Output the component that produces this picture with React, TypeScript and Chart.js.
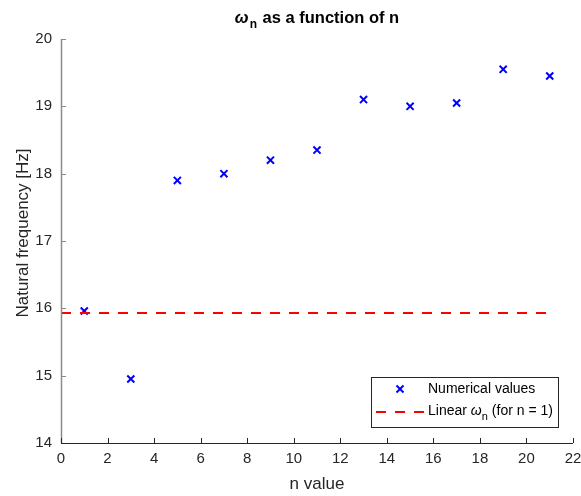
import React, { useEffect, useRef } from "react";
import { Chart, registerables } from "chart.js";
Chart.register(...registerables);

const nValues = [1, 3, 5, 7, 9, 11, 13, 15, 17, 19, 21];
const omegaValues = [15.96, 14.95, 17.9, 18.0, 18.2, 18.35, 19.1, 19.0, 19.05, 19.55, 19.45];
const linearX = [0, 21];
const linearOmega = 15.93;
const xTicks = [0, 2, 4, 6, 8, 10, 12, 14, 16, 18, 20, 22];
const yTicks = [14, 15, 16, 17, 18, 19, 20];

const FONT = "'Liberation Sans', Arial, Helvetica, sans-serif";

const decor = {
  id: "decor",
  afterDraw(chart: any) {
    const ctx = chart.ctx;
    const { left, right, top, bottom } = chart.chartArea;
    const xs = chart.scales.x;
    const ys = chart.scales.y;
    ctx.save();
    // axes
    ctx.lineWidth = 1.5;
    ctx.strokeStyle = "#8a8a8a";
    ctx.beginPath();
    ctx.moveTo(left + 0.5, top);
    ctx.lineTo(left + 0.5, bottom);
    ctx.stroke();
    ctx.lineWidth = 1;
    for (const v of yTicks) {
      const y = Math.round(ys.getPixelForValue(v)) + 0.5;
      ctx.beginPath();
      ctx.moveTo(left, y);
      ctx.lineTo(left + 5, y);
      ctx.stroke();
    }
    ctx.strokeStyle = "#262626";
    ctx.beginPath();
    ctx.moveTo(left, bottom + 0.5);
    ctx.lineTo(right, bottom + 0.5);
    ctx.stroke();
    for (const v of xTicks) {
      const x = Math.round(xs.getPixelForValue(v)) + 0.5;
      ctx.beginPath();
      ctx.moveTo(x, bottom);
      ctx.lineTo(x, bottom - 5);
      ctx.stroke();
    }
    // title
    ctx.fillStyle = "#000";
    ctx.textBaseline = "alphabetic";
    ctx.textAlign = "left";
    const ty = 23;
    const parts: [string, string, number][] = [
      ["ω", `italic bold 16.5px ${FONT}`, 0],
      ["n", `bold 12px ${FONT}`, 5],
      [" as a function of n", `bold 16.5px ${FONT}`, 0],
    ];
    let total = 0;
    for (const [t, f] of parts) { ctx.font = f; total += ctx.measureText(t).width; }
    total += 2;
    let tx = (left + right) / 2 - total / 2;
    parts.forEach(([t, f, dy], i) => {
      ctx.font = f;
      ctx.fillText(t, tx, ty + dy);
      tx += ctx.measureText(t).width + (i < 2 ? 1 : 0);
    });
    // axis labels
    ctx.fillStyle = "#262626";
    ctx.font = `17px ${FONT}`;
    ctx.textAlign = "center";
    ctx.textBaseline = "middle";
    ctx.fillText("n value", (left + right) / 2, 484);
    ctx.save();
    ctx.translate(23, 233);
    ctx.rotate(-Math.PI / 2);
    ctx.fillText("Natural frequency [Hz]", 0, 0);
    ctx.restore();
    // legend
    const lx = 371.5, ly = 377.5, lw = 187, lh = 50;
    ctx.fillStyle = "#ffffff";
    ctx.fillRect(lx, ly, lw, lh);
    ctx.strokeStyle = "#262626";
    ctx.lineWidth = 1;
    ctx.strokeRect(lx, ly, lw, lh);
    // marker
    ctx.strokeStyle = "#0000ff";
    ctx.lineWidth = 2;
    const mx = 400, my = 389, r = 3.5;
    ctx.beginPath();
    ctx.moveTo(mx - r, my - r);
    ctx.lineTo(mx + r, my + r);
    ctx.moveTo(mx - r, my + r);
    ctx.lineTo(mx + r, my - r);
    ctx.stroke();
    // dashed
    ctx.strokeStyle = "#ff0000";
    ctx.setLineDash([10, 9]);
    ctx.beginPath();
    ctx.moveTo(376, 412);
    ctx.lineTo(424, 412);
    ctx.stroke();
    ctx.setLineDash([]);
    ctx.fillStyle = "#000";
    ctx.textAlign = "left";
    ctx.textBaseline = "middle";
    ctx.font = `14px ${FONT}`;
    ctx.fillText("Numerical values", 428, 389);
    let bx = 428;
    ctx.fillText("Linear ", bx, 411);
    bx += ctx.measureText("Linear ").width;
    ctx.font = `italic 14px ${FONT}`;
    ctx.fillText("ω", bx, 411);
    bx += ctx.measureText("ω").width;
    ctx.font = `11px ${FONT}`;
    ctx.fillText("n", bx, 417);
    bx += ctx.measureText("n").width + 4;
    ctx.font = `14px ${FONT}`;
    ctx.fillText("(for n = 1)", bx, 411);
    ctx.restore();
  },
};

export default function App() {
  const ref = useRef<HTMLCanvasElement>(null);
  useEffect(() => {
    document.body.style.margin = "0";
    const chart = new Chart(ref.current!, {
      type: "scatter",
      data: {
        datasets: [
          {
            label: "Linear",
            type: "line",
            data: linearX.map((x) => ({ x, y: linearOmega })),
            borderColor: "#ff0000",
            borderWidth: 2,
            borderDash: [10, 9],
            pointRadius: 0,
            fill: false,
          } as any,
          {
            label: "Numerical values",
            data: nValues.map((x, i) => ({ x, y: omegaValues[i] })),
            pointStyle: "crossRot",
            pointRadius: 5,
            pointBorderWidth: 2,
            borderColor: "#0000ff",
            backgroundColor: "#0000ff",
          },
        ],
      },
      options: {
        animation: false,
        responsive: false,
        layout: { padding: { left: 0, top: 39, right: 8, bottom: 0 } },
        plugins: { legend: { display: false }, title: { display: false }, tooltip: { enabled: false } },
        scales: {
          x: {
            type: "linear",
            min: 0,
            max: 22,
            afterBuildTicks: (s: any) => { s.ticks = xTicks.map((v) => ({ value: v })); },
            afterFit: (s: any) => { s.height = 53; s.paddingLeft = 0; s.paddingRight = 0; },
            grid: { display: false, drawTicks: false },
            border: { display: false },
            ticks: { color: "#262626", font: { family: FONT, size: 15 }, padding: 7, maxRotation: 0 },
          },
          y: {
            type: "linear",
            min: 14,
            max: 20,
            afterBuildTicks: (s: any) => { s.ticks = yTicks.map((v) => ({ value: v })); },
            afterFit: (s: any) => { s.width = 61; s.paddingTop = 0; s.paddingBottom = 0; },
            grid: { display: false, drawTicks: false },
            border: { display: false },
            ticks: { color: "#262626", font: { family: FONT, size: 15 }, padding: 9 },
          },
        },
      },
      plugins: [decor],
    } as any);
    return () => chart.destroy();
  }, []);
  return (
    <div style={{ width: 581, height: 496, background: "#fff" }}>
      <canvas ref={ref} width={581} height={496} style={{ display: "block" }} />
    </div>
  );
}
